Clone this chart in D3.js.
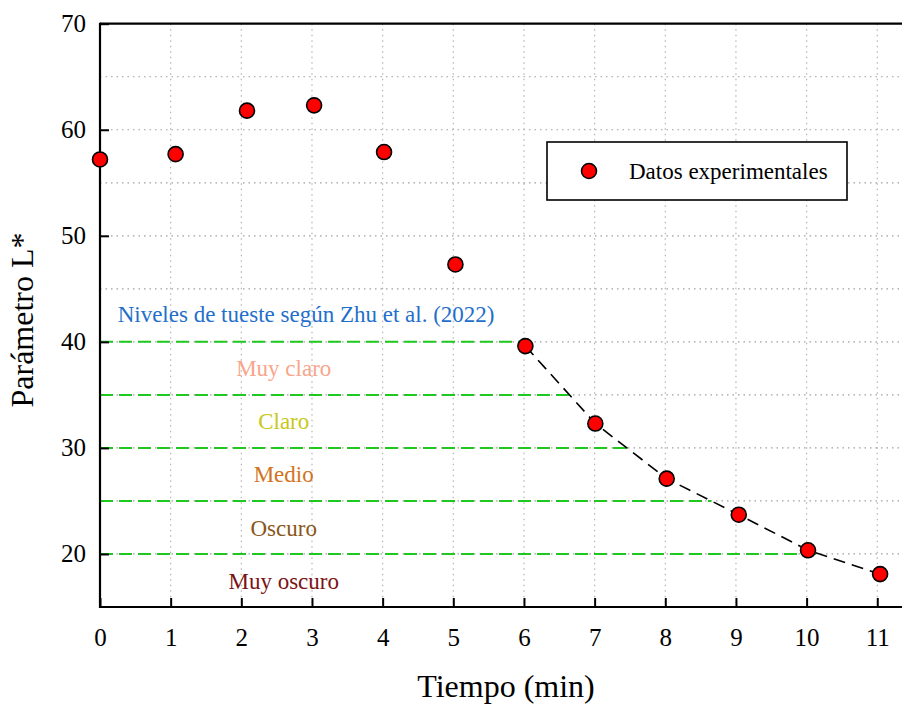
<!DOCTYPE html>
<html><head><meta charset="utf-8">
<script src="https://cdn.jsdelivr.net/npm/d3@7"></script>
<style>
html,body{margin:0;padding:0;background:#fff;}
svg{display:block;}
svg text{font-family:"Liberation Serif",serif;}
</style></head>
<body><svg id="chart" width="902" height="706"></svg>
<script>
// Data
const times = [0, 1.07, 2.08, 3.03, 4.02, 5.03, 6.02, 7.01, 8.02, 9.04, 10.02, 11.04];
const lValues = [57.2, 57.7, 61.8, 62.3, 57.9, 47.3, 39.6, 32.3, 27.1, 23.7, 20.35, 18.1];
const curveStartIndex = 6;
const levelBounds = [40, 35, 30, 25, 20];
const levelNames = ["Muy claro", "Claro", "Medio", "Oscuro", "Muy oscuro"];
const levelMids = [37.5, 32.5, 27.5, 22.5, 17.5];
const levelColors = ["#f8a58c", "#c8c81a", "#d2741e", "#8a561a", "#7a1414"];
const xTicks = [0,1,2,3,4,5,6,7,8,9,10,11];
const yTicks = [20,30,40,50,60,70];
const yGrid = [20,25,30,35,40,45,50,55,60,65];
const xGrid = [1,2,3,4,5,6,7,8,9,10,11];

const FONT = '"Liberation Serif", serif';
const svg = d3.select("#chart");
const x = d3.scaleLinear().domain([0, 11.35]).range([100, 902]);
const y = d3.scaleLinear().domain([15, 70]).range([607, 23.7]);

// grid
const g = svg.append("g");
g.selectAll(".gx").data(xGrid).join("line")
  .attr("x1", d=>x(d)).attr("x2", d=>x(d)).attr("y1", y(70)).attr("y2", y(15))
  .attr("stroke", "#b4b4b4").attr("stroke-width", 1.2).attr("stroke-dasharray", "1.5,4");
g.selectAll(".gy").data(yGrid).join("line")
  .attr("x1", x(0)).attr("x2", 902).attr("y1", d=>y(d)).attr("y2", d=>y(d))
  .attr("stroke", "#a0a0a0").attr("stroke-width", 1.2).attr("stroke-dasharray", "1.5,4");

// curve segment points
const curvePts = times.slice(curveStartIndex).map((t,i)=>[t, lValues[curveStartIndex+i]]);

// intersection of level with curve
function crossTime(level){
  if(level >= curvePts[0][1]) return curvePts[0][0];
  for(let i=0;i<curvePts.length-1;i++){
    const [t0,v0]=curvePts[i],[t1,v1]=curvePts[i+1];
    if(level<=v0 && level>=v1){ return t0 + (v0-level)/(v0-v1)*(t1-t0); }
  }
  return curvePts[curvePts.length-1][0];
}

// green level lines
g.selectAll(".lvl").data(levelBounds).join("line")
  .attr("x1", x(0)).attr("x2", d=>x(crossTime(d)))
  .attr("y1", d=>y(d)).attr("y2", d=>y(d))
  .attr("stroke", "#1ec81e").attr("stroke-width", 2).attr("stroke-dasharray", "13,6");

// dashed black curve
svg.append("path").datum(curvePts)
  .attr("d", d3.line().x(d=>x(d[0])).y(d=>y(d[1])))
  .attr("fill","none").attr("stroke","#000").attr("stroke-width",1.6).attr("stroke-dasharray","12,7");

// level labels
svg.selectAll(".lbl").data(levelNames).join("text")
  .attr("x", x(2.6)).attr("y", (d,i)=>y(levelMids[i])).attr("dy","0.35em")
  .attr("text-anchor","middle").attr("font-size", 23).attr("font-family", FONT).attr("fill", (d,i)=>levelColors[i])
  .text(d=>d);
svg.append("text").attr("x", x(0.25)).attr("y", y(42.6)).attr("dy","0.35em")
  .attr("font-size", 23).attr("font-family", FONT).attr("fill", "#1f6fcb")
  .text("Niveles de tueste según Zhu et al. (2022)");

// axes
const xAxis = d3.axisBottom(x).tickValues(xTicks).tickSize(-9).tickPadding(21).tickFormat(d3.format("d"));
const yAxis = d3.axisLeft(y).tickValues(yTicks).tickSize(-9).tickPadding(14).tickFormat(d3.format("d"));
const gx = svg.append("g").attr("transform", `translate(0,${y(15)})`).call(xAxis);
const gy = svg.append("g").attr("transform", `translate(${x(0)},0)`).call(yAxis);
[gx, gy].forEach(a=>{
  a.attr("font-family", FONT);
  a.select(".domain").remove();
  a.selectAll(".tick line").attr("stroke","#000").attr("stroke-width",2);
  a.selectAll(".tick text").attr("font-size", 25).attr("fill","#000").attr("font-family", FONT);
});
// spines
svg.append("line").attr("x1", x(0)).attr("x2", 902).attr("y1", y(15)).attr("y2", y(15)).attr("stroke","#000").attr("stroke-width",2.2);
svg.append("line").attr("x1", x(0)).attr("x2", 902).attr("y1", y(70)).attr("y2", y(70)).attr("stroke","#000").attr("stroke-width",2.2);
svg.append("line").attr("x1", x(0)).attr("x2", x(0)).attr("y1", y(70)-1).attr("y2", y(15)+1).attr("stroke","#000").attr("stroke-width",2.2);

// points
svg.selectAll(".pt").data(times).join("circle")
  .attr("cx", d=>x(d)).attr("cy", (d,i)=>y(lValues[i])).attr("r", 7.5)
  .attr("fill","#ff0000").attr("stroke","#000").attr("stroke-width",1.6);

// legend
const lg = svg.append("g");
lg.append("rect").attr("x", 547).attr("y", 142).attr("width", 300).attr("height", 58)
  .attr("fill","#fff").attr("stroke","#000").attr("stroke-width",1.6);
lg.append("circle").attr("cx", 589).attr("cy", 171).attr("r", 7.5)
  .attr("fill","#ff0000").attr("stroke","#000").attr("stroke-width",1.6);
lg.append("text").attr("x", 629).attr("y", 171).attr("dy","0.35em").attr("font-size", 23).attr("font-family", FONT).attr("fill","#000")
  .text("Datos experimentales");

// axis titles
svg.append("text").attr("x", 506).attr("y", 697).attr("text-anchor","middle")
  .attr("font-size", 32).attr("font-family", FONT).attr("fill","#000").text("Tiempo (min)");
svg.append("text").attr("transform", `translate(33,320) rotate(-90)`).attr("text-anchor","middle")
  .attr("font-size", 32).attr("font-family", FONT).attr("fill","#000").text("Parámetro L*");
</script></body></html>
